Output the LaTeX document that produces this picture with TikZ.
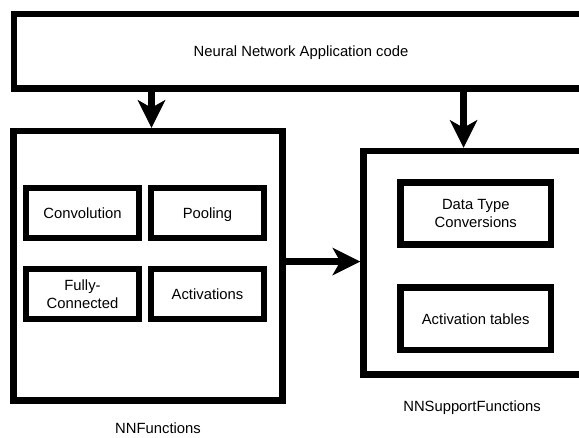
\documentclass[tikz,border=0pt]{standalone}
\usepackage{fontspec}
\setmainfont{Liberation Sans}
\usetikzlibrary{arrows.meta}
\begin{document}
\begin{tikzpicture}[x=1pt,y=-1pt,
  box/.style={draw=black, line width=6.5pt, fill=white, rectangle, inner sep=0pt,
    font=\fontsize{14.8}{17.5}\selectfont, align=center},
  one/.style={text height=10.6pt, text depth=0pt},
  arr/.style={line width=6.5pt, -{Stealth[length=28pt,width=28pt,inset=8pt,line width=0pt]}},
  lbl/.style={font=\fontsize{14.8}{17.5}\selectfont, inner sep=0pt, text height=10.6pt, text depth=0pt}]
\useasboundingbox (0,0) rectangle (579,437);
% main boxes
\node[box, one, minimum width=574pt, minimum height=74.5pt] (top) at (301,51.25) {Neural Network Application code};
\node[box, minimum width=269pt, minimum height=269.5pt] (nnf) at (148,265.75) {};
\node[box, minimum width=224.5pt, minimum height=223.5pt] (nns) at (475.75,262.75) {};
% inner boxes of NNFunctions
\node[box, one, minimum width=113pt, minimum height=50pt] (conv) at (82.5,213) {Convolution};
\node[box, one, minimum width=113pt, minimum height=50pt] (pool) at (207.5,213) {Pooling};
\node[box, minimum width=113pt, minimum height=50pt] (fc) at (82.5,294) {Fully-\\Connected};
\node[box, one, minimum width=113pt, minimum height=50pt] (act) at (207.5,294) {Activations};
% inner boxes of NNSupportFunctions
\node[box, minimum width=150.5pt, minimum height=62pt] (dtc) at (475.75,213.5) {Data Type\\Conversions};
\node[box, one, minimum width=150.5pt, minimum height=62.5pt] (acttab) at (475.75,318.75) {Activation tables};
% labels
\node[lbl] (lblf) at (158,428) {NNFunctions};
\node[lbl] (lbls) at (472,406) {NNSupportFunctions};
% connectors
\coordinate (a1) at (151.5,0);
\coordinate (a2) at (463.5,0);
\coordinate (a3) at (0,261.5);
\draw[arr] (top.south -| a1) -- (nnf.north -| a1);
\draw[arr] (top.south -| a2) -- (nns.north -| a2);
\draw[arr] (nnf.east |- a3) -- (nns.west |- a3);
\end{tikzpicture}
\end{document}
